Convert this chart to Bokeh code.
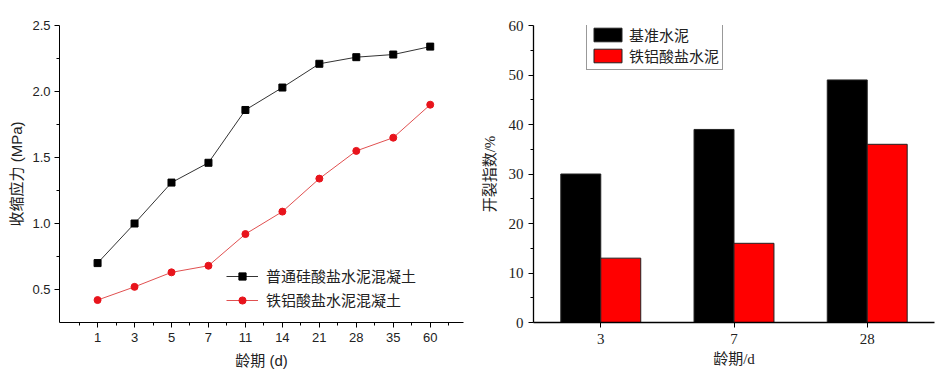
from bokeh.plotting import figure
from bokeh.models import (Range1d, FixedTicker, Legend, LegendItem, PrintfTickFormatter)
from bokeh.layouts import row
from bokeh.transform import dodge
from bokeh.embed import file_html
from bokeh.resources import INLINE

# ---- data: left chart (shrinkage stress) ----
ages = ["1", "3", "5", "7", "11", "14", "21", "28", "35", "60"]
opc_stress = [0.70, 1.00, 1.31, 1.46, 1.86, 2.03, 2.21, 2.26, 2.28, 2.34]
fac_stress = [0.42, 0.52, 0.63, 0.68, 0.92, 1.09, 1.34, 1.55, 1.65, 1.90]
left_names = ["普通硅酸盐水泥混凝土", "铁铝酸盐水泥混凝土"]

# ---- data: right chart (cracking index) ----
crack_ages = ["3", "7", "28"]
ref_crack = [30, 39, 49]
fac_crack = [13, 16, 36]
right_names = ["基准水泥", "铁铝酸盐水泥"]

SANS = "Liberation Sans, Noto Sans CJK SC, sans-serif"
SERIF = "Liberation Serif, Noto Sans CJK SC, serif"

# ================= left =================
idx = list(range(len(ages)))
p1 = figure(width=470, height=378, output_backend="svg", toolbar_location=None,
            x_range=Range1d(-1.03, 9.9), y_range=Range1d(0.25, 2.5),
            min_border_left=59, min_border_right=7, min_border_top=24, min_border_bottom=56)
p1.outline_line_color = None
p1.grid.grid_line_color = None

ln1 = p1.line(idx, opc_stress, line_color="#333333", line_width=1)
mk1 = p1.scatter(idx, opc_stress, marker="square", size=7, fill_color="black", line_color="black")
ln2 = p1.line(idx, fac_stress, line_color="#e05050", line_width=1)
mk2 = p1.scatter(idx, fac_stress, marker="circle", size=7, fill_color="#e8141c", line_color="#e8141c")

p1.xaxis.ticker = FixedTicker(ticks=idx, minor_ticks=[i - 0.5 for i in idx] + [len(idx) - 0.5])
p1.xaxis.major_label_overrides = {i: a for i, a in enumerate(ages)}
p1.yaxis.ticker = FixedTicker(ticks=[0.5, 1.0, 1.5, 2.0, 2.5],
                              minor_ticks=[0.75, 1.25, 1.75, 2.25])
p1.yaxis.formatter = PrintfTickFormatter(format="%.1f")
for ax in (p1.xaxis, p1.yaxis):
    ax.axis_line_color = "black"
    ax.major_tick_line_color = "black"
    ax.minor_tick_line_color = "black"
    ax.major_tick_out = 5
    ax.major_tick_in = 0
    ax.minor_tick_out = 3
    ax.minor_tick_in = 0
    ax.major_label_text_font = SANS
    ax.major_label_text_font_size = "13px"
    ax.major_label_text_color = "#222222"
    ax.axis_label_text_font = SANS
    ax.axis_label_text_font_size = "15px"
    ax.axis_label_text_font_style = "normal"
    ax.axis_label_text_color = "#222222"
p1.yaxis.major_label_standoff = 4
p1.xaxis.major_label_standoff = 5
p1.yaxis.axis_label = "收缩应力 (MPa)"
p1.xaxis.axis_label = "龄期 (d)"
p1.yaxis.axis_label_standoff = 4
p1.xaxis.axis_label_standoff = 7

leg1 = Legend(items=[LegendItem(label=left_names[0], renderers=[ln1, mk1]),
                     LegendItem(label=left_names[1], renderers=[ln2, mk2])],
              location=(167, 12), border_line_color=None, background_fill_alpha=0,
              glyph_width=32, glyph_height=18, label_height=18, spacing=3,
              padding=2, label_standoff=8, margin=0,
              label_text_font=SERIF, label_text_font_size="15px",
              label_text_color="#222222")
p1.add_layout(leg1)

# ================= right =================
cidx = list(range(len(crack_ages)))
src = dict(x=cidx, ref=ref_crack, fac=fac_crack)
p2 = figure(width=475, height=378, output_backend="svg", toolbar_location=None,
            x_range=Range1d(-0.505, 2.505), y_range=Range1d(0, 60),
            min_border_left=63, min_border_right=11, min_border_top=25, min_border_bottom=55)
p2.outline_line_color = None
p2.grid.grid_line_color = None

b1 = p2.vbar(x=dodge("x", -0.15), top="ref", width=0.3, source=src,
             fill_color="black", line_color="#222222")
b2 = p2.vbar(x=dodge("x", 0.15), top="fac", width=0.3, source=src,
             fill_color="#ff0000", line_color="#222222")

p2.xaxis.ticker = FixedTicker(ticks=cidx)
p2.xaxis.major_label_overrides = {i: a for i, a in enumerate(crack_ages)}
p2.yaxis.ticker = FixedTicker(ticks=[0, 10, 20, 30, 40, 50, 60],
                              minor_ticks=[5, 15, 25, 35, 45, 55])
for ax in (p2.xaxis, p2.yaxis):
    ax.axis_line_color = "black"
    ax.axis_line_width = 1.3
    ax.major_tick_line_color = "black"
    ax.minor_tick_line_color = "black"
    ax.major_tick_out = 5
    ax.major_tick_in = 0
    ax.minor_tick_out = 3
    ax.minor_tick_in = 0
    ax.major_label_text_font = SERIF
    ax.major_label_text_font_size = "15px"
    ax.major_label_text_color = "#222222"
    ax.axis_label_text_font = SERIF
    ax.axis_label_text_font_size = "15px"
    ax.axis_label_text_font_style = "normal"
    ax.axis_label_text_color = "#222222"
p2.xaxis.minor_tick_out = 0
p2.yaxis.major_label_standoff = 5
p2.xaxis.major_label_standoff = 6
p2.yaxis.axis_label = "开裂指数/%"
p2.xaxis.axis_label = "龄期/d"
p2.yaxis.axis_label_standoff = 8
p2.xaxis.axis_label_standoff = 4

leg2 = Legend(items=[LegendItem(label=right_names[0], renderers=[b1]),
                     LegendItem(label=right_names[1], renderers=[b2])],
              location=(53, 252), border_line_color="#333333", border_line_width=1,
              background_fill_color="white", background_fill_alpha=1,
              glyph_width=35, glyph_height=17, label_height=17, spacing=0,
              padding=3, label_standoff=4, margin=0,
              label_text_font=SERIF, label_text_font_size="15px",
              label_text_color="#222222")
p2.add_layout(leg2)

layout = row(p1, p2)
open("out.html", "w").write(file_html(layout, INLINE))
